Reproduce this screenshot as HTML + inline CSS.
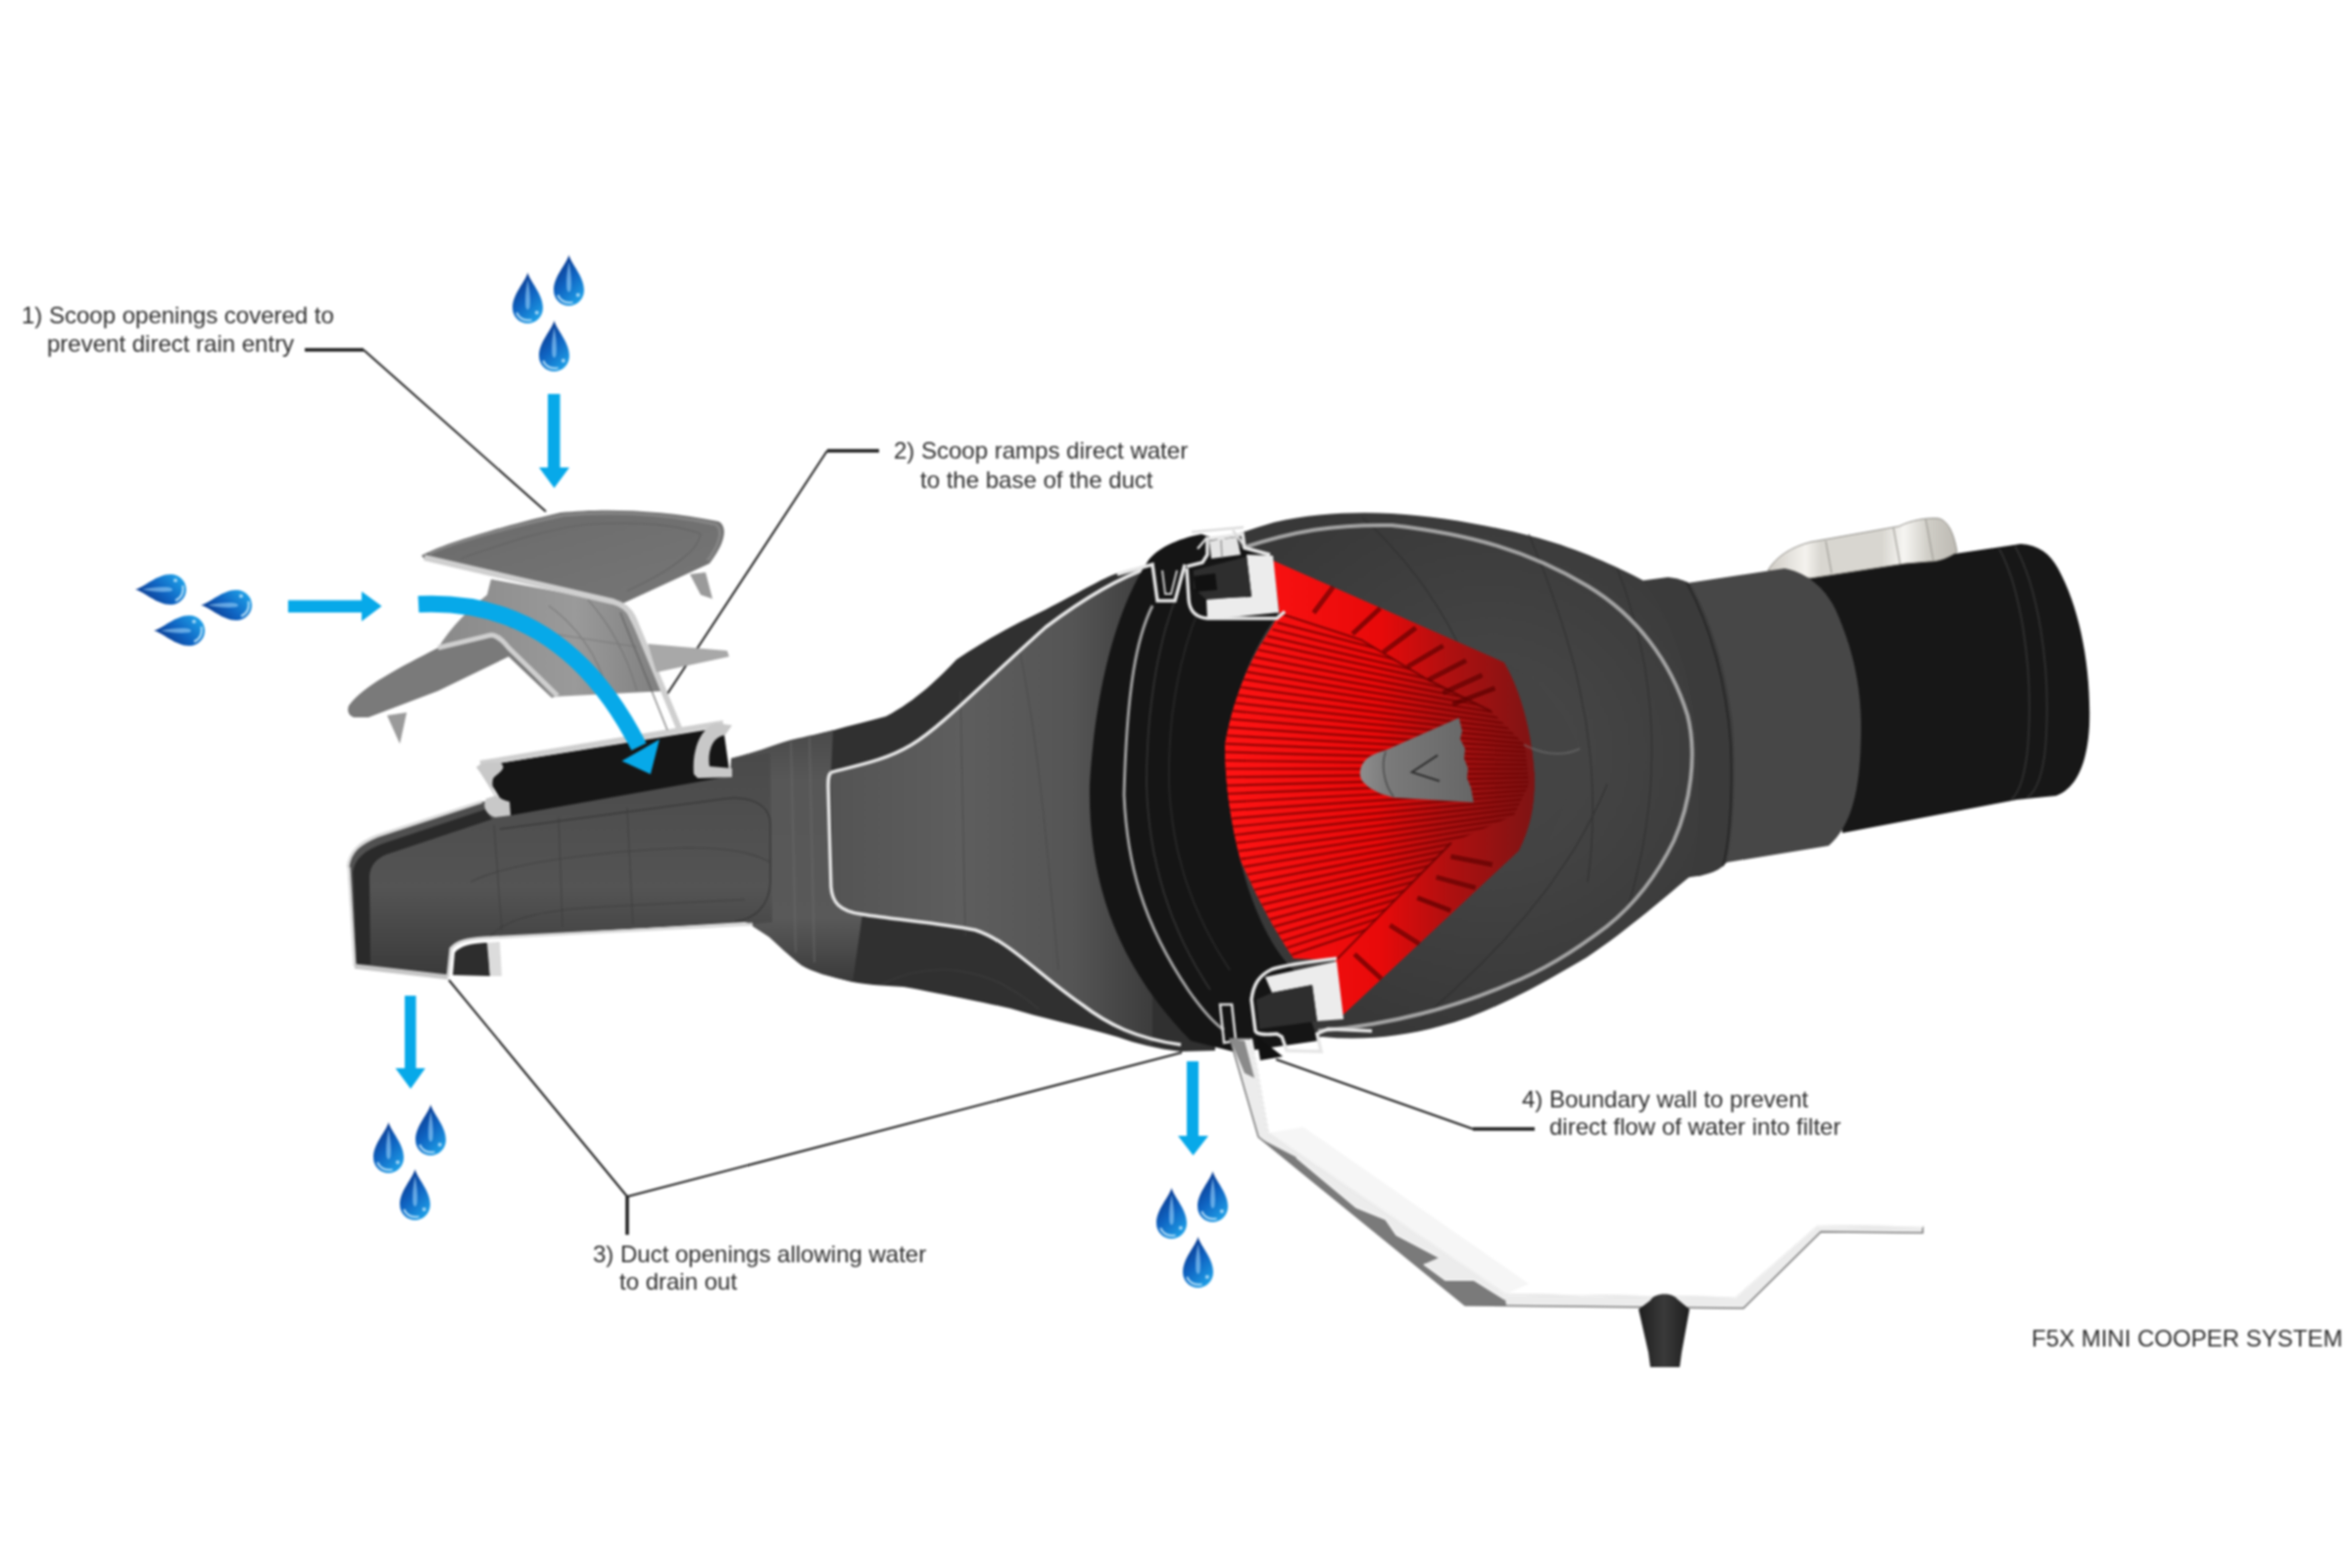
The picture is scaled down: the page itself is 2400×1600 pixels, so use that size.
<!DOCTYPE html>
<html><head><meta charset="utf-8">
<style>
html,body{margin:0;padding:0;background:#fff;width:2400px;height:1600px;overflow:hidden}
svg{display:block;filter:blur(0.8px)}
text{font-family:"Liberation Sans",sans-serif;font-size:24px;fill:#2e2e2e}
</style></head><body>
<svg width="2400" height="1600" viewBox="0 0 2400 1600">
<defs>
<linearGradient id="dropG" x1="0.2" y1="0" x2="0.8" y2="1">
<stop offset="0" stop-color="#0c2f82"/><stop offset="0.5" stop-color="#0f64c2"/><stop offset="1" stop-color="#1fa4ea"/>
</linearGradient>
<g id="drop">
<path d="M15,0 C17,9 30,22 30,36 C30,45.5 23,52 15,52 C7,52 0,45.5 0,36 C0,22 13,9 15,0 Z" fill="url(#dropG)"/>
<path d="M15,7 C16.5,15 18,25 17,35 C16,39 14,39 13,35 C12,25 13.5,15 15,7 Z" fill="#a9dcff" opacity="0.55"/>
<path d="M4,41 C7,48 13,49.5 19,48.5" stroke="#d6f1ff" stroke-width="2.2" fill="none" opacity="0.75"/>
<circle cx="24" cy="41" r="2" fill="#d6f1ff" opacity="0.7"/>
</g>
<linearGradient id="coneG" x1="0" y1="0" x2="1" y2="0">
<stop offset="0" stop-color="#545454"/><stop offset="0.4" stop-color="#5e5e5e"/><stop offset="0.75" stop-color="#555"/><stop offset="1" stop-color="#3c3c3c"/>
</linearGradient>
<linearGradient id="redG" x1="0" y1="0" x2="1" y2="0">
<stop offset="0" stop-color="#ff1414"/><stop offset="0.5" stop-color="#e80a0a"/><stop offset="0.72" stop-color="#b01010"/><stop offset="1" stop-color="#7e1414"/>
</linearGradient>
<radialGradient id="housingG" cx="0.62" cy="0.45" r="0.55">
<stop offset="0" stop-color="#4a4a4a"/><stop offset="1" stop-color="#383838"/>
</radialGradient>
<linearGradient id="ductG" x1="0" y1="0" x2="0" y2="1">
<stop offset="0" stop-color="#4a4a4a"/><stop offset="0.6" stop-color="#545454"/><stop offset="1" stop-color="#3a3a3a"/>
</linearGradient>
<linearGradient id="scoopTopG" x1="0" y1="0" x2="1" y2="1">
<stop offset="0" stop-color="#6a6a6a"/><stop offset="1" stop-color="#777"/>
</linearGradient>
<linearGradient id="rampG" x1="0" y1="0" x2="1" y2="0">
<stop offset="0" stop-color="#8a8a8a"/><stop offset="0.6" stop-color="#9a9a9a"/><stop offset="1" stop-color="#7e7e7e"/>
</linearGradient>
<linearGradient id="stemG" x1="0" y1="0" x2="1" y2="0">
<stop offset="0" stop-color="#1e1e1e"/><stop offset="0.5" stop-color="#3a3a3a"/><stop offset="1" stop-color="#1e1e1e"/>
</linearGradient>
</defs>
<rect width="2400" height="1600" fill="#fff"/>
<g id="leaders" stroke="#1c1c1c" fill="none">
<path d="M311,357 H371" stroke-width="3.5"/>
<path d="M371,357 L557,522" stroke-width="2"/>
<path d="M897,460 H844" stroke-width="3.5"/>
<path d="M844,460 L681,708" stroke-width="2"/>
<path d="M1566,1152 H1503" stroke-width="3.5"/>
<path d="M1503,1152 L1302,1081" stroke-width="2"/>
<path d="M640,1260 V1221" stroke-width="3.5"/>
<path d="M640,1221 L458,1000 M640,1221 L1206,1074" stroke-width="2"/>
</g>
<g id="pipeGroup">
<path d="M1840,588 L2062,555 C2080,556 2092,565 2100,580 C2122,620 2134,680 2132,740 C2130,780 2118,805 2098,812 L2058,816 L1880,850 Z" fill="#171717"/>
<path d="M2040,560 C2062,600 2074,680 2070,750 C2068,790 2060,810 2052,816" stroke="#2e2e2e" stroke-width="2" fill="none"/>
<path d="M2056,557 C2080,600 2092,680 2088,750 C2086,790 2078,808 2068,814" stroke="#2e2e2e" stroke-width="2" fill="none"/>
<linearGradient id="brkG" x1="0" y1="0" x2="1" y2="0"><stop offset="0" stop-color="#cfccc5"/><stop offset="0.2" stop-color="#f4f2ee"/><stop offset="0.28" stop-color="#d8d6d0"/><stop offset="0.6" stop-color="#d8d6d0"/><stop offset="0.72" stop-color="#f6f5f2"/><stop offset="0.85" stop-color="#cfcdc6"/><stop offset="1" stop-color="#bdbab3"/></linearGradient>
<path d="M1804,582 C1812,568 1828,558 1848,553 L1938,537 C1950,531 1965,528 1978,529 C1988,531 1994,545 1997,563 C1990,568 1980,573 1968,573 L1944,575 L1847,590 Z" fill="url(#brkG)" stroke="#8e8c86" stroke-width="1"/>
<path d="M1863,552 L1869,585 M1932,538 L1939,576 M1965,530 L1973,573" stroke="#9c9a94" stroke-width="1.2" fill="none"/>
<path d="M1715,596 L1821,580 C1845,585 1862,600 1873,622 C1890,660 1900,700 1899,750 C1898,800 1892,840 1866,863 L1762,880 Z" fill="#474747"/>
<path d="M1672,593 L1702,589 C1712,590 1718,592 1725,596 C1745,630 1762,685 1768,740 C1772,800 1768,850 1762,880 C1755,888 1745,892 1732,894 L1690,900 Z" fill="#3b3b3b"/>
<path d="M1721,594 C1746,640 1762,700 1766,760 C1768,820 1764,860 1758,884" stroke="#222" stroke-width="1.5" fill="none"/>
</g>
<g id="housingGroup">
<path d="M1176,577 C1220,560 1260,545 1300,533 C1340,524 1380,522 1420,524 C1470,527 1520,536 1570,549 C1610,560 1650,578 1676,592 C1702,625 1722,680 1730,740 C1736,800 1735,860 1725,894 C1705,910 1660,950 1619,977 C1580,1000 1520,1035 1470,1047 C1430,1058 1390,1062 1349,1058 L1262,1070 L1215,1066 Z" fill="url(#housingG)"/>
<path d="M1390,528 C1470,600 1520,700 1525,790 M1560,545 C1600,640 1640,760 1620,900 M1650,580 C1690,680 1700,800 1660,930 M1450,1040 C1520,980 1600,900 1640,800" stroke="#2c2c2c" stroke-width="1.5" fill="none" opacity="0.6"/>
<path d="M1268,559 C1320,542 1360,535 1420,536 C1500,545 1560,562 1620,598 C1670,628 1705,675 1722,730 C1732,770 1725,820 1708,858 C1690,895 1665,925 1640,945 C1610,968 1576,990 1540,1004 C1490,1026 1420,1046 1345,1052" stroke="#a3a3a3" stroke-width="4" fill="none"/>
</g>
<g id="bodyGroup">
<path d="M746,774 C760,770 771,768 790,762 C830,750 870,740 904,731 C935,715 960,690 976,673 C1010,650 1040,635 1067,622 C1100,605 1125,590 1140,585 C1155,580 1165,578 1190,574 L1225,590 L1240,1072 L1205,1073 C1180,1070 1160,1065 1140,1058 C1100,1046 1060,1038 1031,1029 C990,1020 950,1012 922,1007 C900,1006 880,1004 870,1002 C845,996 830,992 818,985 C805,975 795,965 785,956 L768,945 Z" fill="#303030"/>
<linearGradient id="neckG" x1="0" y1="0" x2="0" y2="1"><stop offset="0" stop-color="#4a4a4a"/><stop offset="0.2" stop-color="#575757"/><stop offset="0.75" stop-color="#595959"/><stop offset="1" stop-color="#3a3a3a"/></linearGradient>
<path d="M746,774 C770,768 790,760 807,755 C825,751 838,748 850,745 L848,788 L848,905 L880,933 L870,1002 C845,996 830,992 818,985 C805,975 795,965 785,956 L768,945 Z" fill="url(#neckG)"/>
<path d="M807,757 L812,972 M826,752 L831,982" stroke="#6c6c6c" stroke-width="2" fill="none" opacity="0.5"/>
<path d="M848,788 C880,782 905,775 930,760 C960,742 1000,700 1067,640 C1100,615 1140,590 1176,578 L1176,1066 C1150,1058 1130,1045 1104,1025 C1060,995 1030,960 995,949 C960,942 910,940 886,934 C860,930 852,922 850,905 Z" fill="url(#coneG)"/>
<path d="M980,705 L985,955 M1040,660 C1060,760 1070,880 1080,990 M900,1004 C950,980 1010,985 1060,1030" stroke="#444" stroke-width="1.2" fill="none" opacity="0.6"/>
<path d="M848,788 C880,780 905,775 930,760 C960,742 1000,700 1067,640 C1100,615 1140,590 1176,578" stroke="#e6e6e6" stroke-width="3.5" fill="none"/>
<path d="M848,788 C845,791 845,796 845,802 L848,905 C849,920 856,930 880,933 C910,938 960,942 995,949 C1030,960 1060,995 1104,1025 C1130,1045 1160,1060 1205,1066" stroke="#e6e6e6" stroke-width="3.5" fill="none"/>
</g>
<g id="ringGroup">
<path d="M1171,573 C1140,620 1118,700 1112,800 C1110,900 1140,985 1215,1062 L1262,1074 L1345,1062 L1320,990 C1290,960 1265,900 1255,820 C1248,760 1258,690 1303,628 L1300,570 L1226,545 C1200,550 1180,560 1171,573 Z" fill="#151515"/>
<path d="M1176,618 C1160,650 1150,700 1147,811 C1150,880 1165,940 1213,1011 C1230,1035 1240,1045 1249,1051" stroke="#a0a0a0" stroke-width="3" fill="none"/>
<path d="M1200,610 C1180,660 1170,730 1170,800 C1172,880 1195,950 1235,1010" stroke="#2e2e2e" stroke-width="2" fill="none"/>
<path d="M1222,625 C1200,680 1192,740 1193,800 C1196,870 1215,930 1255,990" stroke="#262626" stroke-width="2" fill="none"/>
</g>
<g id="redGroup">
<path d="M1299,572 L1535,676 C1552,705 1563,745 1566,790 C1567,820 1562,845 1550,868 L1370,1036 L1362,979 L1320,978 C1300,948 1282,915 1266,878 C1256,840 1250,800 1250,760 C1256,725 1268,690 1285,660 L1306,630 Z" fill="url(#redG)"/>
<clipPath id="pleatClip"><path d="M1306,626 L1389,653 L1456,693 L1522,726 L1556,760 L1560,800 L1545,832 L1481,860 L1364,979 L1320,978 C1300,948 1282,915 1266,878 C1256,840 1250,800 1250,760 C1256,725 1268,690 1285,660 Z"/></clipPath>
<path d="M1306,626 L1389,653 L1456,693 L1522,726 L1556,760 L1560,800 L1545,832 L1481,860 L1364,979 L1320,978 C1300,948 1282,915 1266,878 C1256,840 1250,800 1250,760 C1256,725 1268,690 1285,660 Z" fill="url(#redG)"/>
<path d="M1306,626 L1389,653 L1456,693 L1522,726 M1481,860 L1364,979" stroke="#5a0000" stroke-width="2" opacity="0.7" fill="none"/>
<g clip-path="url(#pleatClip)"><path d="M1303.4,635.4 L1649.4,725.2 M1298.3,642.2 L1647.3,727.9 M1293.2,649.1 L1645.3,730.6 M1288.1,655.9 L1643.2,733.4 M1283.3,663.0 L1641.3,736.2 M1279.1,670.4 L1639.6,739.2 M1274.9,677.8 L1638.0,742.1 M1270.7,685.3 L1636.3,745.1 M1267.0,692.9 L1634.8,748.2 M1264.2,701.0 L1633.7,751.4 M1261.5,709.1 L1632.6,754.6 M1258.7,717.2 L1631.5,757.9 M1256.0,725.2 L1630.4,761.1 M1254.5,733.7 L1629.8,764.5 M1253.1,742.1 L1629.2,767.8 M1251.6,750.5 L1628.7,771.2 M1250.2,758.9 L1628.1,774.6 M1250.0,767.4 L1628.0,778.0 M1250.0,776.0 L1628.0,781.4 M1250.0,784.5 L1628.0,784.8 M1250.0,793.0 L1628.0,788.2 M1250.2,801.6 L1628.1,791.6 M1251.5,810.0 L1628.6,795.0 M1252.8,818.5 L1629.1,798.4 M1254.0,826.9 L1629.6,801.8 M1255.3,835.3 L1630.1,805.1 M1257.0,843.7 L1630.8,808.5 M1259.1,852.0 L1631.7,811.8 M1261.3,860.2 L1632.5,815.1 M1263.5,868.5 L1633.4,818.4 M1265.7,876.7 L1634.3,821.7 M1268.9,884.6 L1635.5,824.9 M1272.3,892.5 L1636.9,828.0 M1275.6,900.3 L1638.3,831.1 M1279.0,908.1 L1639.6,834.3 M1282.5,915.9 L1641.0,837.4 M1286.6,923.4 L1642.6,840.4 M1290.7,930.9 L1644.3,843.4 M1294.8,938.4 L1645.9,846.4 M1298.9,945.9 L1647.5,849.4 M1303.4,953.1 L1649.4,852.3 M1308.2,960.2 L1651.3,855.1 M1312.9,967.3 L1653.2,857.9 M1317.6,974.4 L1655.1,860.8" stroke="#6e0000" stroke-width="2.2" opacity="0.75" fill="none"/></g>
<path d="M1339.5,624.7 L1359.4,598.0 M1341.5,626.2 L1361.4,599.5 M1379.3,646.0 L1407.5,619.7 M1381.0,647.8 L1409.2,621.5 M1410.8,664.5 L1444.0,639.6 M1412.3,666.5 L1445.5,641.6 M1435.7,679.4 L1472.0,657.8 M1437.0,681.5 L1473.3,659.9 M1457.0,692.7 L1495.4,672.8 M1458.2,694.9 L1496.6,675.0 M1472.0,706.0 L1512.0,687.7 M1473.0,708.3 L1513.0,690.0 M1482.0,717.5 L1525.0,701.0 M1482.9,719.8 L1525.9,703.3 M1383.0,972.7 L1410.5,998.0 M1381.3,974.5 L1408.8,999.8 M1419.0,943.0 L1449.0,962.0 M1417.7,945.1 L1447.7,964.1 M1446.7,915.0 L1480.7,928.0 M1445.8,917.3 L1479.8,930.3 M1465.8,894.0 L1506.0,904.6 M1465.2,896.4 L1505.4,907.0 M1480.7,872.8 L1523.0,881.0 M1480.2,875.3 L1522.5,883.5" stroke="#5a0000" stroke-width="2" opacity="0.8" fill="none"/>
<path d="M1535,676 C1552,705 1563,745 1566,790 C1567,820 1562,845 1550,868 L1560,880 C1590,850 1605,810 1612,770 C1600,730 1570,690 1535,676 Z" fill="#444" opacity="0.9"/>
<path d="M1555,760 C1575,770 1595,772 1612,764" stroke="#777" stroke-width="2" fill="none" opacity="0.5"/>
<linearGradient id="noseG" x1="0" y1="0" x2="1" y2="0"><stop offset="0" stop-color="#8e8e8e"/><stop offset="0.25" stop-color="#7a7a7a"/><stop offset="1" stop-color="#666"/></linearGradient>
<path d="M1488.8,732.5 L1492,746 L1490,754 L1495,764 L1494,774 L1498,784 L1497,794 L1501,804 L1503.7,818.7 L1422,813.7 C1410,811 1398,806 1391,798 C1386,792 1387,783 1393,776 C1398,771 1405,768 1414,765.6 Z" fill="url(#noseG)"/>
<path d="M1414,767 C1409,780 1412,800 1422,813" stroke="#4a4a4a" stroke-width="1.5" fill="none"/>
<path d="M1467,770.6 L1440.7,788 L1468.9,797" stroke="#2e2e2e" stroke-width="2" fill="none"/>
</g>
<g id="brackets">
<path d="M1140,586 L1176,576 L1181,613 L1199,613 L1209,576" fill="none" stroke="#e6e6e6" stroke-width="3.5"/>
<path d="M1186,582 L1189,606 L1195,606 L1201,582" fill="none" stroke="#cfcfcf" stroke-width="2"/>
<path d="M1211,580 L1213,612 C1214,624 1220,630 1232,631 L1303,631 L1311,624" fill="none" stroke="#e6e6e6" stroke-width="3.5"/>
<path d="M1211,578 L1227,574 L1232,566 L1232,550 L1268,545 L1270,559 L1296,566" fill="none" stroke="#e6e6e6" stroke-width="3.5"/>
<path d="M1216,543 L1269,538 M1222,560 L1232,548 M1258,541 L1269,556" fill="none" stroke="#dcdcdc" stroke-width="2.5"/>
<path d="M1234,552 L1262,548 L1266,566 L1236,570 Z" fill="#e4e4e4"/>
<path d="M1246,551 L1247,569" stroke="#999" stroke-width="1.5"/>
<path d="M1272,566 L1299,567 L1305,625 L1232,632 L1231,611 L1277,609 Z" fill="#ececec"/>
<path d="M1218,582 L1272,568 L1277,608 L1231,612 L1218,600 Z" fill="#2e2e2e"/>
<path d="M1218,588 L1240,585 L1242,602 L1220,604 Z" fill="#111"/>
<path d="M1291,997 L1364,981 L1371,1040 L1344,1042 L1339,1005 L1298,1013 Z" fill="#ececec"/>
<path d="M1298,1013 L1339,1005 L1344,1042 L1285,1050 L1282,1020 Z" fill="#2e2e2e"/>
<path d="M1364,978 C1330,982 1310,985 1298,989 C1285,995 1279,1004 1277,1020 L1281,1052 C1283,1056 1290,1056 1303,1055 L1308,1058 L1313,1072 L1348,1073 L1344,1055 L1355,1050 L1400,1052" fill="none" stroke="#e6e6e6" stroke-width="3.5"/>
<path d="M1282,1057 L1309,1078 L1286,1082 Z" fill="#111"/>
<path d="M1245,1025 L1249,1064 L1261,1062 L1257,1025 Z" fill="none" stroke="#e0e0e0" stroke-width="2.5"/>
</g>
<g id="ductGroup">
<path d="M355,885 C357,868 368,860 385,853 L492,818 L745,790 L746,774 L786,768 L788,941 L768,943 L760,941 L494,957 C478,958 466,960 460,968 L457,997 L362,986 Z" fill="url(#ductG)"/>
<path d="M360,890 C362,876 372,868 390,861 L495,826 L502,836 L394,872 C385,876 378,882 377,894 L378,984 L364,985 Z" fill="#2a2a2a"/>
<path d="M355,885 C357,868 368,860 385,853 L492,818" stroke="#d8d8d8" stroke-width="3" fill="none"/>
<path d="M356,885 L362,986" stroke="#d8d8d8" stroke-width="3" fill="none"/>
<path d="M362,986 L457,997" stroke="#c6c6c6" stroke-width="5"/>
<path d="M457,997 L460,968 C466,960 478,958 494,957 L768,943" stroke="#d6d6d6" stroke-width="3" fill="none"/>
<path d="M462,995 L464,972 C470,965 480,963 494,962 L498,962 L500,996 Z" fill="#2d2d2d"/>
<path d="M497,962 L510,961 L512,996 L500,996 Z" fill="#dcdcdc"/>

<path d="M510,846 L740,815 C760,812 785,818 786,840 L786,900 C785,925 770,938 750,940" stroke="#3a3a3a" stroke-width="1.5" fill="none"/>
<path d="M504,842 L512,950 M570,834 L574,946 M640,824 L646,944 M480,900 C520,880 600,870 700,865 C740,865 770,870 786,880" stroke="#3c3c3c" stroke-width="1.2" fill="none" opacity="0.7"/>
<path d="M500,955 C520,935 560,928 620,925 L760,918" stroke="#3a3a3a" stroke-width="1.2" fill="none" opacity="0.7"/>
<path d="M490,782 L738,742 L745,792 L521,832 Z" fill="#161616"/>
<path d="M490,779 L738,738" stroke="#cfcfcf" stroke-width="6"/>
<path d="M486,783 C490,778 500,777 510,778 C520,785 505,790 503,795 C500,810 510,816 520,818 L521,832 L505,834 C495,830 492,822 496,815 L505,812 C500,805 492,790 486,783 Z" fill="#c8c8c8"/>
<path d="M708,790 C706,770 712,745 730,738 L747,740 L740,750 C725,752 722,770 724,782 L747,784 L747,793 L712,794 Z" fill="#c8c8c8"/>
</g>
<g id="scoop">
<path d="M356,720 C370,700 410,680 447,661 L501,648 C508,648 514,655 519,661 L569,710 L563,712 L519,670 L447,705 L376,732 L361,732 C355,730 354,724 356,720 Z" fill="#7a7a7a"/>
<path d="M501,591 L635,616 L680,705 L563,711 L519,661 C514,655 508,648 501,648 L447,661 C460,640 480,620 497,607 Z" fill="url(#rampG)"/>
<path d="M430,567 C450,556 500,540 572,523 C610,519 670,519 733,532 C742,536 742,552 724,575 L635,616 C590,608 520,590 433,570 Z" fill="url(#scoopTopG)"/>
<path d="M438,565 C455,556 505,541 574,526 C612,522 670,522 730,535 C737,539 737,552 722,572" stroke="#858585" stroke-width="3" fill="none"/>
<path d="M470,570 C520,552 560,540 600,535 C650,532 690,535 715,545 C712,560 690,580 640,603" stroke="#5e5e5e" stroke-width="1.2" fill="none" opacity="0.7"/>
<path d="M433,569 L626,614 C636,617 642,622 646,630 L695,748" stroke="#cfcfcf" stroke-width="6" fill="none"/>
<path d="M633,625 L681,745" stroke="#5a5a5a" stroke-width="1.5" fill="none" opacity="0.7"/>
<path d="M560,618 C590,640 610,670 620,705 M600,612 C625,640 640,670 650,705 M520,640 L650,660" stroke="#6a6a6a" stroke-width="1.2" fill="none" opacity="0.6"/>
<path d="M447,661 L501,648 C508,648 514,655 519,661 L569,710" stroke="#cfcfcf" stroke-width="5" fill="none"/>
<path d="M661,657 L742,664 L744,670 L670,686 Z" fill="#a8a8a8"/>
<path d="M704,586 L715,607 L727,611 L720,584 Z" fill="#9a9a9a"/>
<path d="M395,730 L408,759 L415,727 Z" fill="#9a9a9a"/>
</g>
<g id="wall">
<path d="M1294,1156 L1330,1150 L1560,1310 L1536,1321 Z" fill="#f6f6f6"/>
<path d="M1255,1060 L1277,1060 L1294,1156 L1536,1321 L1772,1324 L1855,1251 L1962,1252 L1962,1258 L1858,1257 L1779,1335 L1495,1332 L1284,1160 Z" fill="#ececec" stroke="#777" stroke-width="1.5"/>
<path d="M1255,1060 L1270,1062 L1280,1100 L1270,1095 Z" fill="#8a8a8a"/>
<path d="M1285,1161 L1495,1332 L1537,1332 L1536,1326 L1504,1306 L1475,1306 L1453,1290 L1469,1283 L1425,1260 L1414,1244 L1384,1232 L1323,1181 L1292,1165 Z" fill="#7a7a7a"/>
<path d="M1323,1181 L1384,1232 L1414,1244 L1425,1260 L1469,1283 M1453,1290 L1475,1306 L1504,1306 L1536,1326" stroke="#f2f2f2" stroke-width="2" fill="none"/>
<path d="M1277,1060 L1294,1156 L1536,1321 L1772,1324 L1855,1251 L1962,1252" stroke="#f4f4f4" stroke-width="2" fill="none"/>
<path d="M1684,1327 C1688,1319 1706,1318 1712,1326 L1724,1336 L1716,1380 L1714,1395 L1684,1395 L1682,1380 L1672,1336 Z" fill="url(#stemG)"/>
</g>
<g id="arrows" fill="#07a9e9">
<path d="M559,402 H571.5 V477 H581 L565.5,498 L550,477 H559 Z"/>
<path d="M294,612.5 H369 V603.5 L389.5,618.5 L369,634 V625 H294 Z"/>
<path d="M413,1016 H424.5 V1090 H434 L419,1111 L403.5,1090 H413 Z"/>
<path d="M1211,1083 H1223 V1159 H1233 L1217.5,1179 L1202,1159 H1211 Z"/>
<path d="M427,616.5 C515,612 595,650 652,762" stroke="#07a9e9" stroke-width="17" fill="none"/>
<path d="M634.5,776.5 L672.9,754.6 L663.8,790 Z"/>
</g>
<g id="drops"><use href="#drop" transform="translate(523,278) scale(1.033,1.000)"/><use href="#drop" transform="translate(565,260) scale(1.033,1.000)"/><use href="#drop" transform="translate(550,327) scale(1.033,1.000)"/><use href="#drop" transform="translate(381,1145) scale(1.033,1.000)"/><use href="#drop" transform="translate(424,1127) scale(1.033,1.000)"/><use href="#drop" transform="translate(408,1193) scale(1.033,1.000)"/><use href="#drop" transform="translate(1180,1212) scale(1.033,1.000)"/><use href="#drop" transform="translate(1222,1195) scale(1.033,1.000)"/><use href="#drop" transform="translate(1207,1262) scale(1.033,1.000)"/><use href="#drop" transform="translate(138,617) rotate(-90) scale(1.033,1.000)"/><use href="#drop" transform="translate(205,633) rotate(-90) scale(1.033,1.000)"/><use href="#drop" transform="translate(157,659) rotate(-90) scale(1.033,1.000)"/></g><g id="texts">
<text x="22" y="330">1) Scoop openings covered to</text>
<text x="48" y="359">prevent direct rain entry</text>
<text x="912" y="468">2) Scoop ramps direct water</text>
<text x="939" y="498">to the base of the duct</text>
<text x="1553" y="1130">4) Boundary wall to prevent</text>
<text x="1581" y="1158">direct flow of water into filter</text>
<text x="605" y="1288">3) Duct openings allowing water</text>
<text x="632" y="1316">to drain out</text>
<text x="2073" y="1374">F5X MINI COOPER SYSTEM</text>
</g>
</svg>
</body></html>
